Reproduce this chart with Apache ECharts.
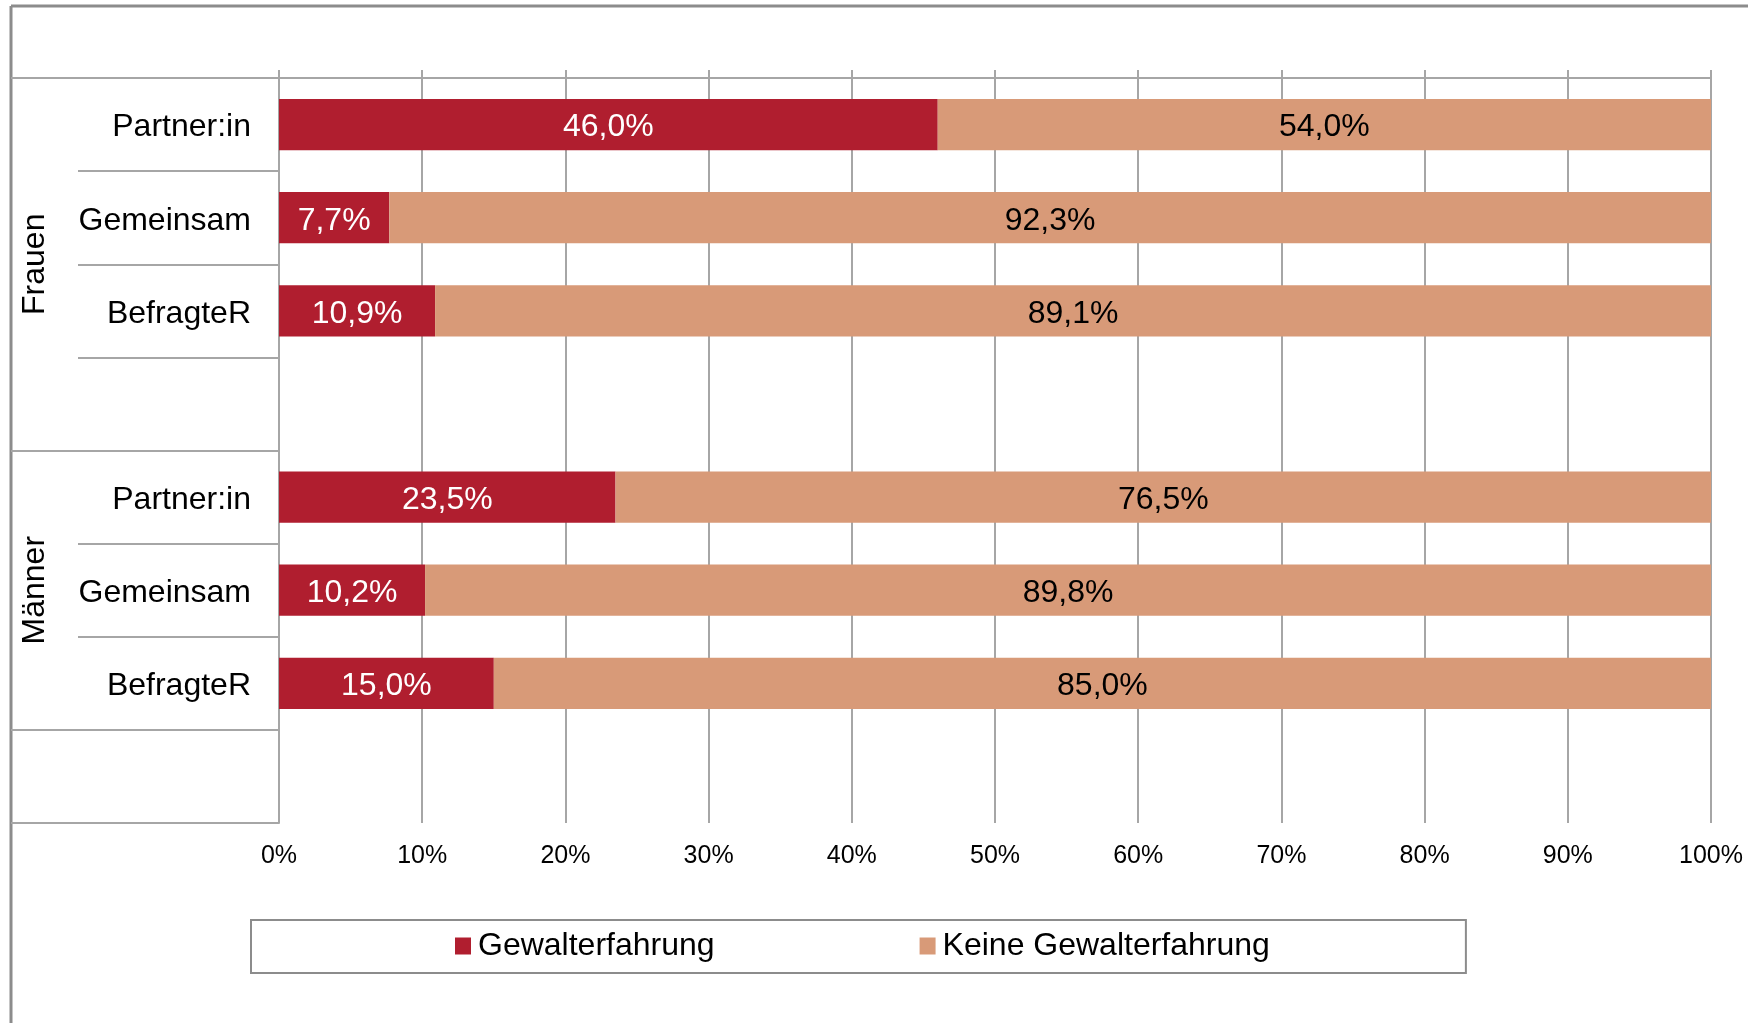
<!DOCTYPE html>
<html>
<head>
<meta charset="utf-8">
<script src="https://cdn.jsdelivr.net/npm/echarts@6/dist/echarts.min.js"></script>
<style>
html,body{margin:0;padding:0;background:#fff;}
#chart{width:1748px;height:1023px;}
</style>
</head>
<body>
<div id="chart"></div>
<script>
// Categories (top to bottom); blank rows separate the groups
const categories = ['Partner:in', 'Gemeinsam', 'BefragteR', '', 'Partner:in', 'Gemeinsam', 'BefragteR', ''];
const groupNames = ['Frauen', 'Männer'];
const groupCenters = [2, 5.5];          // group label positions (band units)
const groupStartIndex = [0, 4, 7];      // first category index of each group block
const seriesNames = ['Gewalterfahrung', 'Keine Gewalterfahrung'];
const gewalt = [46.0, 7.7, 10.9, '-', 23.5, 10.2, 15.0, '-'];
const keineGewalt = [54.0, 92.3, 89.1, '-', 76.5, 89.8, 85.0, '-'];
const xTicks = [0, 10, 20, 30, 40, 50, 60, 70, 80, 90, 100];

const FONT = '"Liberation Sans", Arial, sans-serif';
const GRID = '#A6A6A6';
const RED = '#B01E2F';
const TAN = '#D89A78';

const chart = echarts.init(document.getElementById('chart'), null, {renderer: 'canvas'});
const fmt = v => (typeof v === 'number' ? v.toFixed(1).replace('.', ',') + '%' : '');

chart.setOption({
  animation: false,
  backgroundColor: '#fff',
  textStyle: {fontFamily: FONT},
  grid: {left: 279, right: 37, top: 78, bottom: 200, containLabel: false},
  xAxis: [
    {
      type: 'value', position: 'top', min: 0, max: 100, interval: 10,
      axisLine: {show: true, lineStyle: {color: GRID, width: 2}},
      axisTick: {show: true, length: 8, lineStyle: {color: GRID, width: 2}},
      axisLabel: {show: false},
      splitLine: {show: true, lineStyle: {color: GRID, width: 2}}
    },
    {
      type: 'value', position: 'bottom', min: 0, max: 100, interval: 10,
      axisLine: {show: false}, axisTick: {show: false},
      splitLine: {show: false},
      axisLabel: {show: true, margin: 21, fontSize: 25, color: '#000', fontFamily: FONT,
        formatter: v => xTicks.indexOf(v) >= 0 ? v + '%' : ''}
    }
  ],
  yAxis: [
    {
      type: 'category', inverse: true, data: categories,
      axisLine: {show: true, lineStyle: {color: GRID, width: 2}},
      axisTick: {show: true, interval: 0, length: 201, lineStyle: {color: GRID, width: 2}},
      axisLabel: {show: true, interval: 0, margin: 28, fontSize: 32, color: '#000', fontFamily: FONT,
        formatter: v => v ? '{c|' + v + '}' : '',
        rich: {c: {fontSize: 32, color: '#000', fontFamily: FONT, padding: [6, 0, 0, 0]}}},
      splitLine: {show: false}
    },
    {
      type: 'value', inverse: true, min: 0, max: 8, position: 'left', offset: 201,
      axisLine: {show: false},
      splitLine: {show: false},
      axisTick: {show: false},
      axisLabel: {show: true, customValues: groupCenters, rotate: 90, margin: 27, fontSize: 32,
        color: '#000', fontFamily: FONT,
        formatter: v => groupNames[groupCenters.indexOf(v)] || ''}
    },
    {
      type: 'category', inverse: true, data: categories, position: 'left', offset: 201,
      axisLine: {show: false},
      splitLine: {show: false},
      axisLabel: {show: false},
      axisTick: {show: true, length: 67, lineStyle: {color: GRID, width: 2},
        interval: (i) => groupStartIndex.indexOf(i) >= 0}
    }
  ],
  legend: {
    data: seriesNames,
    left: 251, top: 920,
    padding: [10, 196, 11, 204],
    itemGap: 205,
    itemWidth: 16, itemHeight: 17,
    borderColor: '#8C8C8C', borderWidth: 2,
    icon: 'rect',
    textStyle: {fontSize: 32, color: '#000', fontFamily: FONT, padding: [0, 0, 0, 2]}
  },
  graphic: [
    {type: 'line', shape: {x1: 11, y1: 6, x2: 11, y2: 1023}, style: {stroke: '#8C8C8C', lineWidth: 3}, silent: true},
    {type: 'line', shape: {x1: 11, y1: 6, x2: 1748, y2: 6}, style: {stroke: '#8C8C8C', lineWidth: 3}, silent: true}
  ],
  series: [
    {
      name: seriesNames[0], type: 'bar', stack: 'total', data: gewalt,
      xAxisIndex: 0, yAxisIndex: 0, barWidth: '55%',
      itemStyle: {color: RED},
      label: {show: true, position: 'inside', color: '#fff', fontSize: 32, fontFamily: FONT,
        offset: [0, 3], formatter: p => fmt(p.value)}
    },
    {
      name: seriesNames[1], type: 'bar', stack: 'total', data: keineGewalt,
      xAxisIndex: 0, yAxisIndex: 0, barWidth: '55%',
      itemStyle: {color: TAN},
      label: {show: true, position: 'inside', color: '#000', fontSize: 32, fontFamily: FONT,
        offset: [0, 3], formatter: p => fmt(p.value)}
    }
  ]
});
</script>
</body>
</html>
